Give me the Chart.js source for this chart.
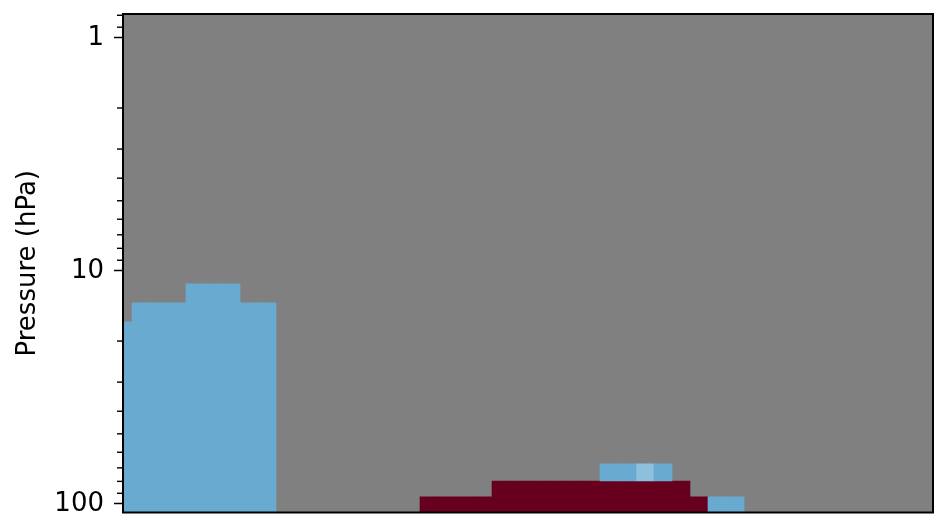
<!DOCTYPE html>
<html>
<head>
<meta charset="utf-8">
<script src="https://cdn.jsdelivr.net/npm/chart.js@4"></script>
<style>
  html, body { margin: 0; padding: 0; background: #fff; }
  #wrap { width: 934px; height: 515px; }
</style>
</head>
<body>
<div id="wrap"><canvas id="heat"></canvas></div>
<script>
// column index runs 0..45, pressure edges in hPa
const pTop = 0.79;
const pBottom = 108.8;
const yTicks = [0.8, 0.9, 1, 2, 3, 4, 5, 6, 7, 8, 9, 10, 20, 30, 40, 50, 60, 70, 80, 90, 100];
const yLabels = [1, 10, 100];

const blueCols   = [0, 1, 2, 3, 4, 5, 6, 7, 8, 27, 28, 30, 33, 34];
const blueTop    = [16.55, 13.72, 13.72, 13.72, 11.37, 11.37, 11.37, 13.72, 13.72, 67.3, 67.3, 67.3, 93.3, 93.3];
const blueBottom = [108.8, 108.8, 108.8, 108.8, 108.8, 108.8, 108.8, 108.8, 108.8, 79.7, 79.7, 79.7, 108.8, 108.8];

const lightCols   = [29];
const lightTop    = [67.3];
const lightBottom = [79.7];

const redCols   = [17, 18, 19, 20, 21, 22, 23, 24, 25, 26, 27, 28, 29, 30, 31, 32];
const redTop    = [93.3, 93.3, 93.3, 93.3, 79.7, 79.7, 79.7, 79.7, 79.7, 79.7, 79.7, 79.7, 79.7, 79.7, 79.7, 93.3];
const redBottom = [108.8, 108.8, 108.8, 108.8, 108.8, 108.8, 108.8, 108.8, 108.8, 108.8, 108.8, 108.8, 108.8, 108.8, 108.8, 108.8];

function cells(cols, top, bottom) {
    return cols.map((c, i) => ({ x: c, y: [top[i], bottom[i]] }));
}

const font = { family: 'DejaVu Sans', size: 26 };

// grey axes background + black frame + short minor ticks
const frame = {
    id: 'frame',
    beforeDatasetsDraw(chart) {
        const a = chart.chartArea, ctx = chart.ctx;
        ctx.save();
        ctx.fillStyle = '#808080';
        ctx.fillRect(a.left, a.top, a.right - a.left, a.bottom - a.top);
        ctx.restore();
    },
    afterDraw(chart) {
        const a = chart.chartArea, ctx = chart.ctx, y = chart.scales.y;
        ctx.save();
        ctx.strokeStyle = '#000';
        ctx.lineWidth = 1.4;
        y.ticks.forEach(t => {
            if (yLabels.includes(t.value)) return;
            const py = y.getPixelForValue(t.value);
            ctx.beginPath();
            ctx.moveTo(a.left - 6, py);
            ctx.lineTo(a.left, py);
            ctx.stroke();
        });
        ctx.lineWidth = 2;
        ctx.strokeRect(a.left, a.top, a.right - a.left, a.bottom - a.top);
        ctx.restore();
    }
};

new Chart(document.getElementById('heat'), {
    type: 'bar',
    data: {
        datasets: [
            { data: cells(blueCols, blueTop, blueBottom), backgroundColor: 'rgb(105,170,208)' },
            { data: cells(lightCols, lightTop, lightBottom), backgroundColor: 'rgb(142,192,221)' },
            { data: cells(redCols, redTop, redBottom), backgroundColor: '#67001f' }
        ]
    },
    options: {
        responsive: true,
        maintainAspectRatio: false,
        animation: false,
        grouped: false,
        barPercentage: 1,
        categoryPercentage: 1,
        borderWidth: 0,
        layout: { padding: { left: 0, top: 14, right: 1, bottom: 2.5 } },
        plugins: { legend: { display: false }, tooltip: { enabled: false } },
        scales: {
            x: { type: 'linear', min: 0, max: 45, offset: false, display: false },
            y: {
                type: 'logarithmic',
                reverse: true,
                min: pTop,
                max: pBottom,
                afterBuildTicks: s => { s.ticks = yTicks.map(v => ({ value: v })); },
                afterFit: s => { s.width = 123; s.paddingTop = 0; s.paddingBottom = 0; },
                border: { display: false },
                grid: {
                    drawOnChartArea: false,
                    tickLength: 9,
                    tickWidth: 1.5,
                    tickColor: c => (c.tick && yLabels.includes(c.tick.value)) ? '#000' : 'rgba(0,0,0,0)'
                },
                ticks: {
                    color: '#000',
                    font: font,
                    padding: 10,
                    autoSkip: false,
                    callback: v => yLabels.includes(v) ? String(v) : ''
                },
                title: {
                    display: true,
                    text: 'Pressure (hPa)',
                    color: '#000',
                    font: font,
                    padding: { top: 13, bottom: 0 }
                }
            }
        }
    },
    plugins: [frame]
});
</script>
</body>
</html>
